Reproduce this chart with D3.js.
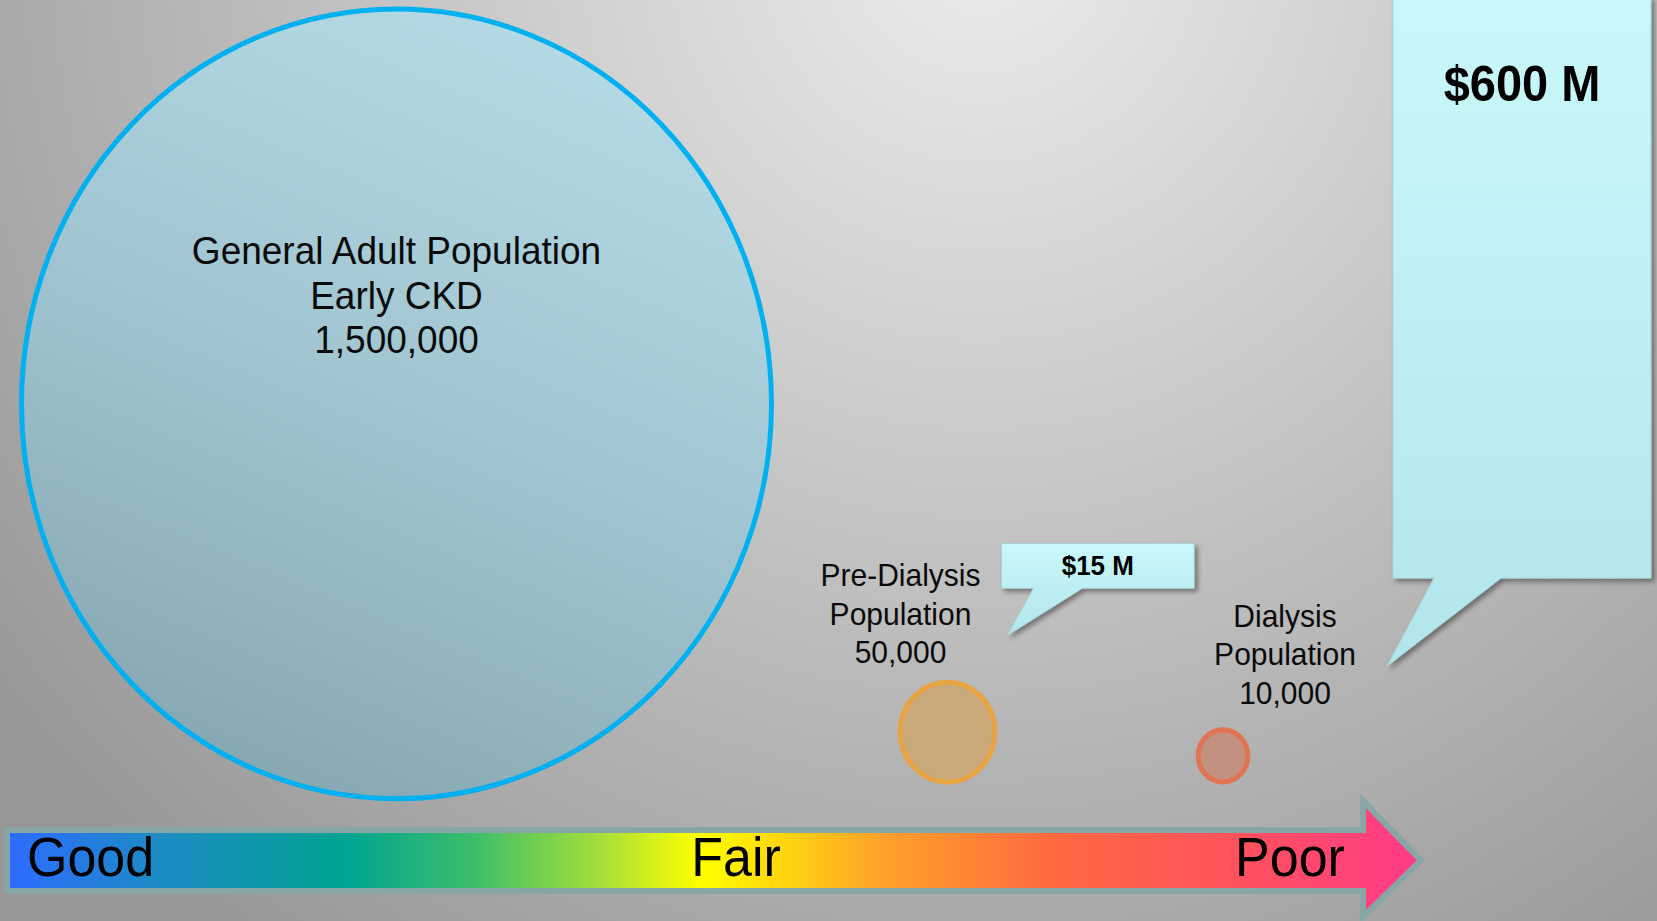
<!doctype html>
<html>
<head>
  <meta charset="utf-8">
  <title>CKD population and cost</title>
  <script src="https://d3js.org/d3.v7.min.js"></script>
  <style>
    body { margin: 0; overflow: hidden; background: #a8a8a8; }
    svg { display: block; font-family: "Liberation Sans", Arial, sans-serif; }
  </style>
</head>
<body>
<script>

// ---- data ----
var groups = ["General", "Pre-Dialysis", "Dialysis"];
var labelLines = [
  ["General Adult Population", "Early CKD"],
  ["Pre-Dialysis", "Population"],
  ["Dialysis", "Population"]
];
var population = [1500000, 50000, 10000];
var stage = [1, 3, 4];               // where each group sits on the Good -> Poor scale
var costs = [15, 600];               // $ millions
var costGroup = [1, 2];              // which group each cost belongs to
var healthTicks = ["Good", "Fair", "Poor"];

var width = 1657,
    height = 921,
    stretch = 1.053,                 // slide is a little taller than wide
    baseline = 782;

var svg = d3.select("body").append("svg")
    .attr("width", width)
    .attr("height", height);

var defs = svg.append("defs");

// background
var bg = defs.append("radialGradient")
    .attr("id", "bg")
    .attr("gradientUnits", "userSpaceOnUse")
    .attr("cx", 980).attr("cy", -60).attr("r", 1250);
bg.append("stop").attr("offset", "0").attr("stop-color", "#ececec");
bg.append("stop").attr("offset", "0.45").attr("stop-color", "#c6c6c6");
bg.append("stop").attr("offset", "1").attr("stop-color", "#979797");

svg.append("rect")
    .attr("width", width)
    .attr("height", height)
    .attr("fill", "url(#bg)");

// big bubble fill
var bubbleFill = defs.append("linearGradient")
    .attr("id", "bubbleFill")
    .attr("x1", 0.7).attr("y1", 0).attr("x2", 0.3).attr("y2", 1);
bubbleFill.append("stop").attr("offset", "0").attr("stop-color", "#b4dbe5");
bubbleFill.append("stop").attr("offset", "0.5").attr("stop-color", "#a1c5d0");
bubbleFill.append("stop").attr("offset", "1").attr("stop-color", "#84a6b1");

var calloutFill = defs.append("linearGradient")
    .attr("id", "calloutFill")
    .attr("x1", 0).attr("y1", 0).attr("x2", 0).attr("y2", 1);
calloutFill.append("stop").attr("offset", "0").attr("stop-color", "#c9f8fa");
calloutFill.append("stop").attr("offset", "1").attr("stop-color", "#b2e6ea");

var shadow = defs.append("filter")
    .attr("id", "shadow")
    .attr("x", "-10%").attr("y", "-10%")
    .attr("width", "130%").attr("height", "130%");
shadow.append("feDropShadow")
    .attr("dx", 3).attr("dy", 3)
    .attr("stdDeviation", 2.5)
    .attr("flood-color", "#000")
    .attr("flood-opacity", 0.4);

// text is drawn a bit taller than wide, like the rest of the slide
function stretched(sel, tx, ty) {
  return sel.attr("transform", "translate(" + tx + "," + ty + ") scale(1," + stretch + ")");
}

// ---- scales ----
var x = d3.scaleLinear()
    .domain([1, 4])
    .range([396.5, 1223]);

var r = d3.scalePow()
    .exponent(0.7)
    .domain([0, d3.max(population)])
    .range([14, 375]);

var costHeight = d3.scaleLinear().domain([0, 600]).range([31, 581]);
var costWidth = d3.scaleLinear().domain([0, 600]).range([191, 258]);
var costFont = d3.scaleLinear().domain([15, 600]).range([26, 47]);

var bubbleStyle = [
  { fill: "url(#bubbleFill)", stroke: "#00b0f0" },
  { fill: "#c9a979", stroke: "#e8a443" },
  { fill: "#c19080", stroke: "#e07352" }
];
var labelStyle = [
  { dx: 0, dy: -139.5, size: 37, lh: 44.5 },
  { dx: -47, dy: -146, size: 30, lh: 38.5 },
  { dx: 62, dy: -129, size: 30, lh: 38.5 }
];

var data = groups.map(function(g, i) {
  var rx = r(population[i]);
  var ry = rx * stretch;
  return {
    name: g,
    lines: labelLines[i].concat([d3.format(",")(population[i])]),
    cx: x(stage[i]),
    rx: rx,
    ry: ry,
    cy: Math.max(baseline - ry, ry + 9)
  };
});

// ---- bubbles ----
svg.selectAll(".bubble")
    .data(data)
  .enter().append("ellipse")
    .attr("class", "bubble")
    .attr("cx", function(d) { return d.cx; })
    .attr("cy", function(d) { return d.cy; })
    .attr("rx", function(d) { return d.rx; })
    .attr("ry", function(d) { return d.ry; })
    .attr("fill", function(d, i) { return bubbleStyle[i].fill; })
    .attr("stroke", function(d, i) { return bubbleStyle[i].stroke; })
    .attr("stroke-width", 5);

var labels = svg.selectAll(".label")
    .data(data)
  .enter().append("text")
    .attr("class", "label")
    .attr("text-anchor", "middle")
    .attr("fill", "#0a0a0a")
    .attr("font-size", function(d, i) { return labelStyle[i].size; })
    .each(function(d, i) {
      stretched(d3.select(this), d.cx + labelStyle[i].dx, d.cy + labelStyle[i].dy);
    });

labels.each(function(d, i) {
  d3.select(this).selectAll("tspan")
      .data(d.lines)
    .enter().append("tspan")
      .attr("x", 0)
      .attr("dy", function(t, j) { return j === 0 ? 0 : labelStyle[i].lh / stretch; })
      .text(function(t) { return t; });
});

// ---- cost callouts ----
var calloutPlace = [
  { dx: 54, bottomFromTop: -94, base: [32, 81], tip: [6, 47] },
  { dx: 170, bottomFromTop: -151.6, base: [41, 108], tip: [-6, 88] }
];

costs.forEach(function(c, i) {
  var b = data[costGroup[i]],
      p = calloutPlace[i],
      w = costWidth(c),
      h = costHeight(c),
      left = b.cx + p.dx,
      bottom = (b.cy - b.ry) + p.bottomFromTop,
      top = bottom - h;

  var path = d3.path();
  path.moveTo(left, top);
  path.lineTo(left + w, top);
  path.lineTo(left + w, bottom);
  path.lineTo(left + p.base[1], bottom);
  path.lineTo(left + p.tip[0], bottom + p.tip[1]);
  path.lineTo(left + p.base[0], bottom);
  path.lineTo(left, bottom);
  path.closePath();

  svg.append("path")
      .attr("d", path.toString())
      .attr("fill", "url(#calloutFill)")
      .attr("stroke", "#a6d4d8")
      .attr("stroke-width", 1)
      .attr("filter", "url(#shadow)");

  var fs = costFont(c);
  svg.append("text")
      .call(stretched, left + w / 2, top + Math.min(h / 2 + 0.36 * fs, 104))
      .attr("text-anchor", "middle")
      .attr("font-weight", "bold")
      .attr("font-size", fs)
      .attr("fill", "#000")
      .text("$" + c + " M");
});

// ---- health arrow ----
var arrowX = d3.scaleLinear().domain([0, 1]).range([7, 1421]);

var arrowGrad = defs.append("linearGradient")
    .attr("id", "arrowGrad")
    .attr("gradientUnits", "userSpaceOnUse")
    .attr("x1", arrowX(0)).attr("y1", 0)
    .attr("x2", arrowX(1)).attr("y2", 0);

var arrowStops = [
  [0, "#2e6bff"], [0.1, "#1e89c8"], [0.24, "#00a491"], [0.33, "#3dbe6a"],
  [0.42, "#a6df3a"], [0.49, "#ffff00"], [0.55, "#ffd40f"], [0.62, "#ffa12a"],
  [0.74, "#ff6840"], [0.88, "#ff5060"], [1, "#ff3a88"]
];
arrowStops.forEach(function(s) {
  arrowGrad.append("stop").attr("offset", s[0]).attr("stop-color", s[1]);
});

var bodyTop = 830, bodyBottom = 891, headBack = 1363, headTop = 801, headBottom = 917;
var mid = (bodyTop + bodyBottom) / 2;

var arrow = d3.path();
arrow.moveTo(arrowX(0), bodyTop);
arrow.lineTo(headBack, bodyTop);
arrow.lineTo(headBack, headTop);
arrow.lineTo(arrowX(1), mid);
arrow.lineTo(headBack, headBottom);
arrow.lineTo(headBack, bodyBottom);
arrow.lineTo(arrowX(0), bodyBottom);
arrow.closePath();

svg.append("path")
    .attr("d", arrow.toString())
    .attr("fill", "url(#arrowGrad)")
    .attr("stroke", "#88a6a7")
    .attr("stroke-width", 6)
    .attr("stroke-linejoin", "miter");

var tickPlace = [
  { x: 27, anchor: "start" },
  { x: 736, anchor: "middle" },
  { x: 1290, anchor: "middle" }
];

svg.selectAll(".health")
    .data(healthTicks)
  .enter().append("text")
    .attr("class", "health")
    .each(function(d, i) { stretched(d3.select(this), tickPlace[i].x, 876); })
    .attr("text-anchor", function(d, i) { return tickPlace[i].anchor; })
    .attr("font-size", 52)
    .attr("fill", "#000")
    .text(function(d) { return d; });

</script>
</body>
</html>
